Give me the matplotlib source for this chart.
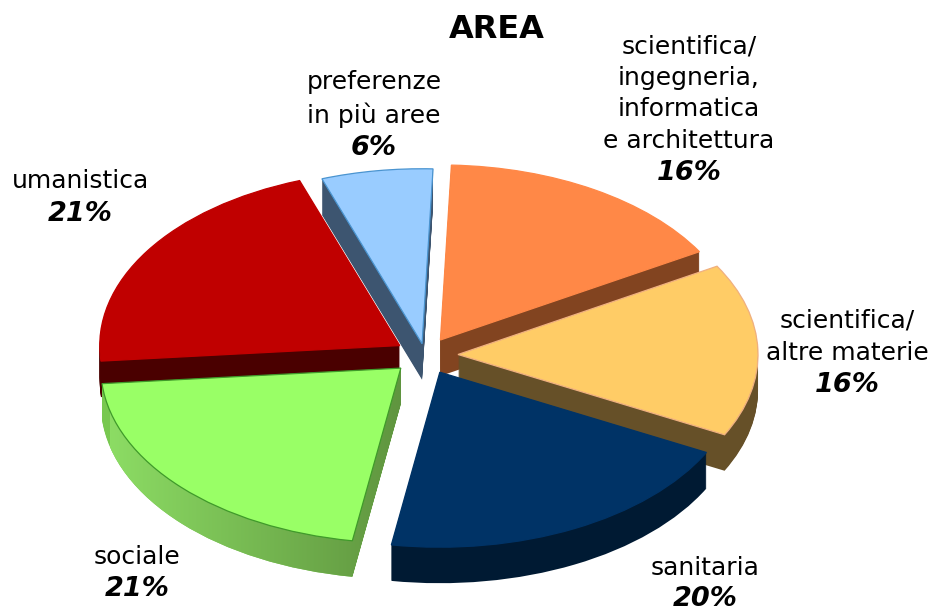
import numpy as np
import matplotlib
matplotlib.use('Agg')
import matplotlib.pyplot as plt
from matplotlib.colors import LinearSegmentedColormap
from matplotlib.path import Path

# slices, clockwise from the light blue one
areas = ['preferenze\nin più aree', 'scientifica/\ningegneria,\ninformatica\ne architettura',
         'scientifica/\naltre materie', 'sanitaria', 'sociale', 'umanistica']
shares = [6, 16, 16, 20, 21, 21]

top_colors = ['#99ccff', '#ff8847', '#ffcc66', '#003366', '#99ff66', '#c00000']
edge_colors = ['#4a94d0', '#ff8847', '#f0b080', '#003366', '#3f9a2a', '#c00000']
wall_colors = ['#3d5570', '#824420', '#665028', '#001a33', '#78c850', '#4a0000']
stacking = [1, 3, 4, 6, 5, 2]
explode = [0.065, 0.1, 0.11, 0.11, 0.11, 0.1]

W, H = 933, 612
CX, CY = 425, 355    # pie centre in pixels
RX, RY = 300, 175    # ellipse radii in pixels
DEPTH = 36
START = 109.5

fig = plt.figure(figsize=(W / 100, H / 100), dpi=100)
ax = fig.add_axes([0, 0, 1, 1])

wall_layers = {}
for d in range(DEPTH, 0, -1):
    wedges, _ = ax.pie(shares, colors=wall_colors, explode=explode, startangle=START,
                       counterclock=False, center=(0, -d / RY))
    for i, w in enumerate(wedges):
        w.set_zorder(stacking[i] * 100 + DEPTH - d)
        w.set_linewidth(0)
        wall_layers.setdefault(i, []).append(w)

wedges, _ = ax.pie(shares, colors=top_colors, explode=explode, startangle=START,
                   counterclock=False, wedgeprops=dict(linewidth=0.9))
for i, w in enumerate(wedges):
    w.set_zorder(stacking[i] * 100 + DEPTH + 1)
    w.set_edgecolor(edge_colors[i])

x0, x1 = -CX / RX, (W - CX) / RX
y0, y1 = (CY - H) / RY, CY / RY

# shaded rim on the green slice
green = areas.index('sociale')
shade = LinearSegmentedColormap.from_list('rim', ['#8cdc64', '#5c8f3c'])
clip = Path.make_compound_path(*[w.get_path() for w in wall_layers[green]])
im = ax.imshow(np.linspace(0, 1, 256)[None, :], cmap=shade, aspect='auto',
               extent=(-1.05, 0.0, y0, y1), zorder=stacking[green] * 100 + DEPTH)
im.set_clip_path(clip, transform=ax.transData)

ax.set_aspect('auto')
ax.set_xlim(x0, x1)
ax.set_ylim(y0, y1)
ax.axis('off')


def px(x, y):
    return x / W, 1 - y / H


# label centre x, first line y, line step
label_pos = [(374, 82, 33), (689, 46, 31.7), (847, 321, 32), (705, 568, 31), (137, 557, 32), (80, 181, 33)]
for name, share, (lx, ly, step) in zip(areas, shares, label_pos):
    lines = name.split('\n')
    for j, line in enumerate(lines):
        fig.text(*px(lx, ly + j * step), line, ha='center', va='center', fontsize=18, color='black')
    fig.text(*px(lx, ly + len(lines) * step), f'{share}%', ha='center', va='center',
             fontsize=19.5, fontweight='bold', fontstyle='italic', color='black')

fig.text(*px(497, 29), 'AREA', ha='center', va='center', fontsize=23, fontweight='bold', color='black')

fig.savefig('out.png', dpi=100)
